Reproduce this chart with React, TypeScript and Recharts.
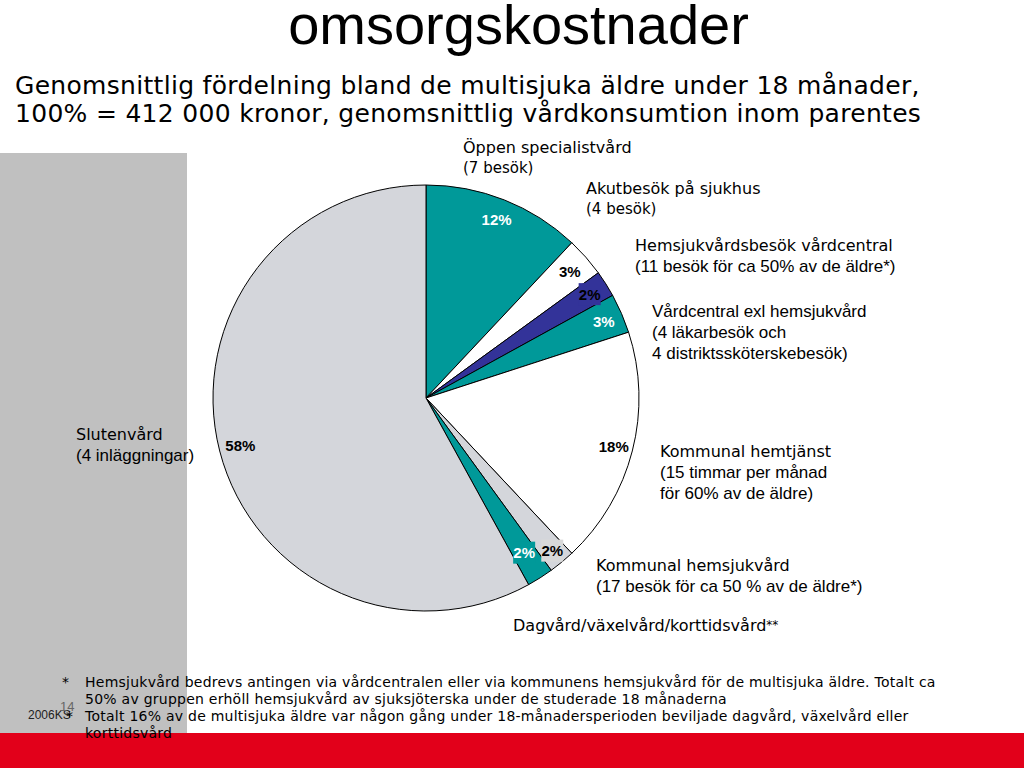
import { PieChart, Pie, Cell } from 'recharts';

// slices, clockwise from 12 o'clock
const categories = [
  'Öppen specialistvård',
  'Akutbesök på sjukhus',
  'Hemsjukvårdsbesök vårdcentral',
  'Vårdcentral exl hemsjukvård',
  'Kommunal hemtjänst',
  'Kommunal hemsjukvård',
  'Dagvård/växelvård/korttidsvård',
  'Slutenvård',
];
const shares = [12, 3, 2, 3, 18, 2, 2, 58];

const TEAL = '#009999';
const BLUE = '#333399';
const GRAY = '#d4d6db';
const sliceColors = [TEAL, '#ffffff', BLUE, TEAL, '#ffffff', GRAY, TEAL, GRAY];
const labelColors = ['#fff', '#000', '#000', '#fff', '#000', '#000', '#fff', '#000'];
const labelBoxes: (string | null)[] = [null, null, BLUE, null, null, '#d9d9d9', TEAL, null];
const labelRadius = [0.9, 0.9, 0.91, 0.91, 0.91, 0.93, 0.86, 0.9];

const chartData = categories.map((name, i) => ({ name, value: shares[i] }));

const RAD = Math.PI / 180;

const renderLabel = (props: any) => {
  const { cx, cy, midAngle, outerRadius, index, value } = props;
  const r = outerRadius * labelRadius[index];
  const x = cx + r * Math.cos(-midAngle * RAD);
  const y = cy + r * Math.sin(-midAngle * RAD);
  const text = `${value}%`;
  const box = labelBoxes[index];
  const w = text.length * 9 + 4;
  return (
    <g key={`lbl-${index}`}>
      {box && <rect x={x - w / 2} y={y - 11} width={w} height={22} fill={box} />}
      <text
        x={x}
        y={y}
        textAnchor="middle"
        dominantBaseline="central"
        fill={labelColors[index]}
        style={{ fontFamily: 'Liberation Sans, Arial, sans-serif', fontSize: 15, fontWeight: 'bold' }}
      >
        {text}
      </text>
    </g>
  );
};

const sans = 'Liberation Sans, Arial, sans-serif';
const verdana = 'DejaVu Sans, Verdana, sans-serif';

// 'v' = verdana-like line, 'a' = arial line
function Note({ left, top, lines }: { left: number; top: number; lines: [string, string][] }) {
  return (
    <div style={{ position: 'absolute', left, top, lineHeight: '21px', color: '#000', whiteSpace: 'nowrap' }}>
      {lines.map(([l, f], i) => (
        <div
          key={i}
          style={f === 'v'
            ? { fontFamily: verdana, fontSize: i === 0 ? 16 : 15 }
            : { fontFamily: sans, fontSize: 17 }}
        >
          {l}
        </div>
      ))}
    </div>
  );
}

export default function App() {
  return (
    <div style={{ position: 'fixed', left: 0, top: 0, width: 1024, height: 768, background: '#fff', overflow: 'hidden' }}>
      <div style={{ position: 'absolute', left: 0, top: 153, width: 187, height: 580, background: '#c0c0c0' }} />
      <div style={{ position: 'absolute', left: 0, top: 733, width: 1024, height: 35, background: '#e2001a' }} />

      <div style={{ position: 'absolute', left: 0, width: 1037, top: -3, textAlign: 'center', fontFamily: sans, fontSize: 56, lineHeight: '56px' }}>
        omsorgskostnader
      </div>
      <div style={{ position: 'absolute', left: 15, top: 72, fontFamily: verdana, fontSize: 25, letterSpacing: 0.3, lineHeight: '28px', whiteSpace: 'nowrap' }}>
        <div>Genomsnittlig fördelning bland de multisjuka äldre under 18 månader,</div>
        <div>100% = 412 000 kronor, genomsnittlig vårdkonsumtion inom parentes</div>
      </div>

      <div style={{ position: 'absolute', left: 0, top: 0 }}>
        <PieChart width={1024} height={768} margin={{ top: 0, right: 0, bottom: 0, left: 0 }}>
          <Pie
            data={chartData}
            dataKey="value"
            nameKey="name"
            cx={426}
            cy={398}
            outerRadius={213}
            startAngle={90}
            endAngle={-270}
            stroke="#000"
            strokeWidth={1}
            label={renderLabel}
            labelLine={false}
            isAnimationActive={false}
          >
            {chartData.map((entry, i) => (
              <Cell key={entry.name} fill={sliceColors[i]} />
            ))}
          </Pie>
        </PieChart>
      </div>

      <Note left={463} top={137} lines={[['Öppen specialistvård', 'v'], ['(7 besök)', 'v']]} />
      <Note left={586} top={178} lines={[['Akutbesök på sjukhus', 'v'], ['(4 besök)', 'v']]} />
      <Note left={635} top={235} lines={[['Hemsjukvårdsbesök vårdcentral', 'v'], ['(11 besök för ca 50% av de äldre*)', 'a']]} />
      <Note left={652} top={301} lines={[['Vårdcentral exl hemsjukvård', 'a'], ['(4 läkarbesök och', 'a'], ['4 distriktssköterskebesök)', 'a']]} />
      <Note left={660} top={441} lines={[['Kommunal hemtjänst', 'v'], ['(15 timmar per månad', 'a'], ['för 60% av de äldre)', 'a']]} />
      <Note left={596} top={555} lines={[['Kommunal hemsjukvård', 'v'], ['(17 besök för ca 50 % av de äldre*)', 'a']]} />
      <Note left={76} top={424} lines={[['Slutenvård', 'v'], ['(4 inläggningar)', 'a']]} />
      <div style={{ position: 'absolute', left: 513, top: 615, fontFamily: verdana, fontSize: 16, lineHeight: '21px', whiteSpace: 'nowrap' }}>
        Dagvård/växelvård/korttidsvård<span style={{ fontSize: 12, verticalAlign: 'top' }}>**</span>
      </div>

      <div style={{ position: 'absolute', left: 28, top: 708, fontFamily: sans, fontSize: 12, color: '#222' }}>2006KS</div>
      <div style={{ position: 'absolute', left: 60, top: 699, fontFamily: sans, fontSize: 13, color: '#666' }}>14</div>
      <div style={{ position: 'absolute', left: 62, top: 674, fontFamily: verdana, fontSize: 14 }}>*</div>
      <div style={{ position: 'absolute', left: 66, top: 708, fontFamily: verdana, fontSize: 14 }}>*</div>
      <div style={{ position: 'absolute', left: 85, top: 674, fontFamily: verdana, fontSize: 14, letterSpacing: 0.25, lineHeight: '17px', whiteSpace: 'nowrap' }}>
        <div>Hemsjukvård bedrevs antingen via vårdcentralen eller via kommunens hemsjukvård för de multisjuka äldre. Totalt ca</div>
        <div>50% av gruppen erhöll hemsjukvård av sjuksjöterska under de studerade 18 månaderna</div>
        <div>Totalt 16% av de multisjuka äldre var någon gång under 18-månadersperioden beviljade dagvård, växelvård eller</div>
        <div>korttidsvård</div>
      </div>
    </div>
  );
}
